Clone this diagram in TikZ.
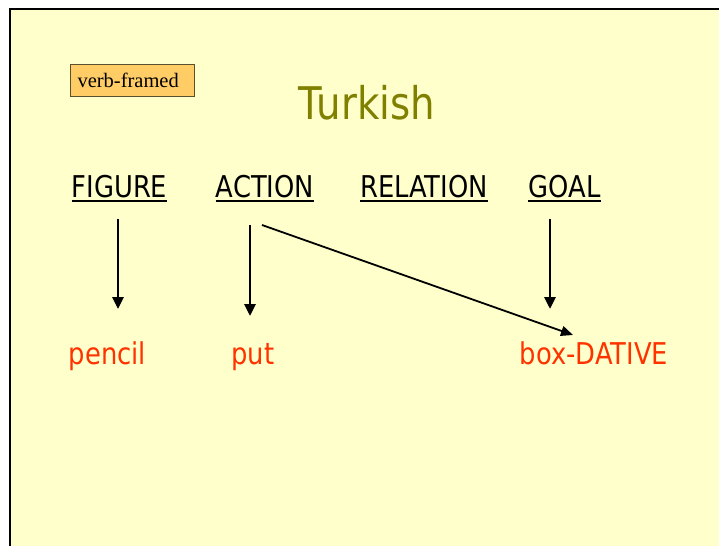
\documentclass[tikz,border=0pt]{standalone}
\usepackage{fontspec}
\setmainfont{DejaVu Sans}[FakeStretch=0.86]
\newfontfamily\tms{Liberation Serif}
\usetikzlibrary{arrows.meta}
\definecolor{bg}{HTML}{FFFFCC}
\definecolor{olivet}{HTML}{808000}
\definecolor{redt}{HTML}{FF3300}
\definecolor{boxfill}{HTML}{FFCC66}
\definecolor{boxline}{HTML}{5A5030}
\begin{document}
\begin{tikzpicture}[x=1pt,y=-1pt,
  lbl/.style={inner sep=0pt,anchor=base,text=black,font=\fontsize{30}{36}\selectfont},
  word/.style={inner sep=0pt,anchor=base,text=redt,font=\fontsize{30}{36}\selectfont},
  ttl/.style={inner sep=0pt,anchor=base,text=olivet,font=\fontsize{45}{52}\selectfont},
  tag/.style={draw=boxline,line width=0.8pt,fill=boxfill,minimum height=32pt,inner ysep=0pt,
    inner xsep=7.5pt,text width=109pt,align=left,font=\tms\fontsize{20.5}{24}\selectfont},
  uline/.style={line width=2.4pt},
  arr/.style={line width=2.8pt,-{Triangle[length=12pt,width=11pt]}},
  thinarr/.style={line width=1.8pt,-{Triangle[length=12pt,width=10pt]}}]
\useasboundingbox (0,0) rectangle (719,546);
\fill[white] (0,0) rectangle (719,546);
\fill[bg] (10,9) rectangle (719,546);
\draw[line width=2.2pt] (10,546) -- (10,9) -- (719,9);

\node[tag] (vf) at (132,80) {verb-framed};
\node[ttl] (title) at (367,119) {Turkish};

\node[lbl] (fig) at (119.5,197) {FIGURE};
\node[lbl] (act) at (265,197) {ACTION};
\node[lbl] (rel) at (424,197) {RELATION};
\node[lbl] (goal) at (564.5,197) {GOAL};
\foreach \n in {fig,act,rel,goal}
  \draw[uline] ([yshift=-3.8pt]\n.base west) -- ([yshift=-3.8pt]\n.base east);

\node[word] (pencil) at (107.5,364) {pencil};
\node[word] (put) at (253,364) {put};
\node[word] (box) at (594,364) {box-DATIVE};

\coordinate (f1) at (118,219);  \coordinate (f2) at (118,309);
\coordinate (a1) at (250,225);  \coordinate (a2) at (250,316);
\coordinate (d1) at (262,225);  \coordinate (d2) at (573,335);
\coordinate (g1) at (550,219);  \coordinate (g2) at (550,309);
\draw[arr] (f1) -- (f2);
\draw[arr] (a1) -- (a2);
\draw[thinarr] (d1) -- (d2);
\draw[arr] (g1) -- (g2);
\end{tikzpicture}
\end{document}
